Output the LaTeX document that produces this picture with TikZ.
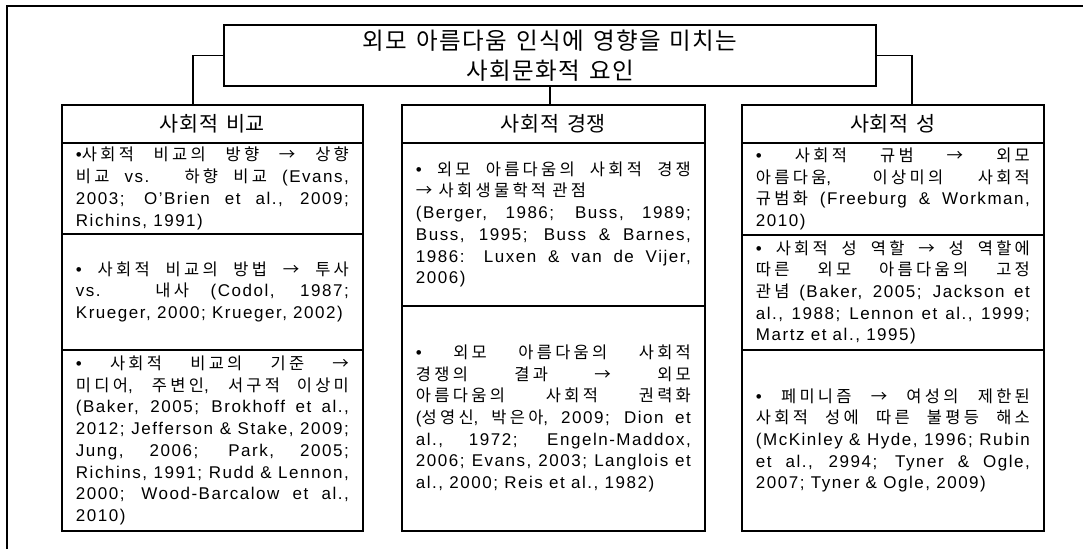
\documentclass[tikz,border=0pt]{standalone}
\usepackage{fontspec}
\setmainfont[LetterSpace=9]{Liberation Sans}
\newfontfamily\latinfont[LetterSpace=9]{Liberation Sans}
\newfontfamily\krbody[Scale=0.97,LetterSpace=20]{Noto Sans CJK KR}
\newfontfamily\krhead[Scale=0.94,LetterSpace=3]{Noto Sans CJK KR}
\newfontfamily\krtitle[Scale=0.94,LetterSpace=6]{Noto Sans CJK KR}
\def\krsel{\krbody}
\XeTeXinterchartokenstate=1
\newXeTeXintercharclass\KrClass
\newcount\krc
\krc="AC00
\loop\ifnum\krc<"D7A4
  \XeTeXcharclass\krc=\KrClass
  \advance\krc by 1
\repeat
\XeTeXcharclass"2192=\KrClass
\XeTeXinterchartoks 0 \KrClass = {\krsel}
\XeTeXinterchartoks 4095 \KrClass = {\krsel}
\XeTeXinterchartoks \KrClass 0 = {\latinfont}
\XeTeXinterchartoks \KrClass 4095 = {\latinfont}
\tikzset{
  frameline/.style={line width=1.8pt},
  box/.style={draw, line width=1.8pt, inner sep=0pt},
  cell/.style={box, inner xsep=14pt, inner ysep=0pt, align=justify,
    anchor=north west, font=\fontsize{17}{21.7}\selectfont\def\krsel{\krbody}},
  head/.style={box, anchor=north west,
    font=\fontsize{22}{26}\selectfont\def\krsel{\krhead}},
  conn/.style={line width=1.5pt},
}
\begin{document}
\begin{tikzpicture}[x=1pt,y=-1pt]
\fill[white] (0,0) rectangle (1084,549);
\useasboundingbox (0,0) rectangle (1084,549);
\draw[frameline] (7,549) -- (7,6) -- (1083,6);

\node[box, minimum width=652pt, minimum height=61pt, align=center,
  font=\fontsize{25}{29.5}\selectfont\def\krsel{\krtitle}] (title) at (550,55.5)
  {외모 아름다움 인식에 영향을 미치는\\사회문화적 요인};

% headers
\node[head, minimum width=301pt, minimum height=38pt] (lh) at (61,104) {사회적 비교};
\node[head, minimum width=303pt, minimum height=38pt] (mh) at (401,104) {사회적 경쟁};
\node[head, minimum width=302pt, minimum height=38pt] (rh) at (741,104) {사회적 성};

% connectors
\coordinate (cl) at (193,104);
\coordinate (cr) at (912,104);
\draw[conn] (title.west) -| (cl);
\draw[conn] (title.east) -| (cr);
\draw[conn] (title.south) -- (title.south |- mh.north);

% left column
\node[cell, text width=273pt, minimum height=91pt] (l1) at (61,142)
{•사회적 비교의 방향 → 상향\linebreak
비교 vs. 하향 비교 (Evans,\linebreak
2003; O’Brien et al., 2009;\linebreak
Richins, 1991)};
\node[cell, text width=273pt, minimum height=116pt] (l2) at (61,233)
{• 사회적 비교의 방법 → 투사\linebreak
vs. 내사 (Codol, 1987;\linebreak
Krueger, 2000; Krueger, 2002)};
\node[cell, text width=273pt, minimum height=181pt] (l3) at (61,349)
{• 사회적 비교의 기준 →\linebreak
미디어, 주변인, 서구적 이상미\linebreak
(Baker, 2005; Brokhoff et al.,\linebreak
2012; Jefferson \& Stake, 2009;\linebreak
Jung, 2006; Park, 2005;\linebreak
Richins, 1991; Rudd \& Lennon,\linebreak
2000; Wood-Barcalow et al.,\linebreak
2010)};

% middle column
\node[cell, text width=275pt, minimum height=163pt] (m1) at (401,142)
{• 외모 아름다움의 사회적 경쟁\linebreak
→ 사회생물학적 관점\newline
(Berger, 1986; Buss, 1989;\linebreak
Buss, 1995; Buss \& Barnes,\linebreak
1986: Luxen \& van de Vijer,\linebreak
2006)};
\node[cell, text width=275pt, minimum height=225pt] (m2) at (401,305)
{• 외모 아름다움의 사회적\linebreak
경쟁의 결과 → 외모\linebreak
아름다움의 사회적 권력화\linebreak
(성영신, 박은아, 2009; Dion et\linebreak
al., 1972; Engeln-Maddox,\linebreak
2006; Evans, 2003; Langlois et\linebreak
al., 2000; Reis et al., 1982)};

% right column
\node[cell, text width=274pt, minimum height=92pt] (r1) at (741,142)
{• 사회적 규범 → 외모\linebreak
아름다움, 이상미의 사회적\linebreak
규범화 (Freeburg \& Workman,\linebreak
2010)};
\node[cell, text width=274pt, minimum height=115pt] (r2) at (741,234)
{• 사회적 성 역할 → 성 역할에\linebreak
따른 외모 아름다움의 고정\linebreak
관념 (Baker, 2005; Jackson et\linebreak
al., 1988; Lennon et al., 1999;\linebreak
Martz et al., 1995)};
\node[cell, text width=274pt, minimum height=181pt] (r3) at (741,349)
{• 페미니즘 → 여성의 제한된\linebreak
사회적 성에 따른 불평등 해소\linebreak
(McKinley \& Hyde, 1996; Rubin\linebreak
et al., 2994; Tyner \& Ogle,\linebreak
2007; Tyner \& Ogle, 2009)};
\end{tikzpicture}
\end{document}
